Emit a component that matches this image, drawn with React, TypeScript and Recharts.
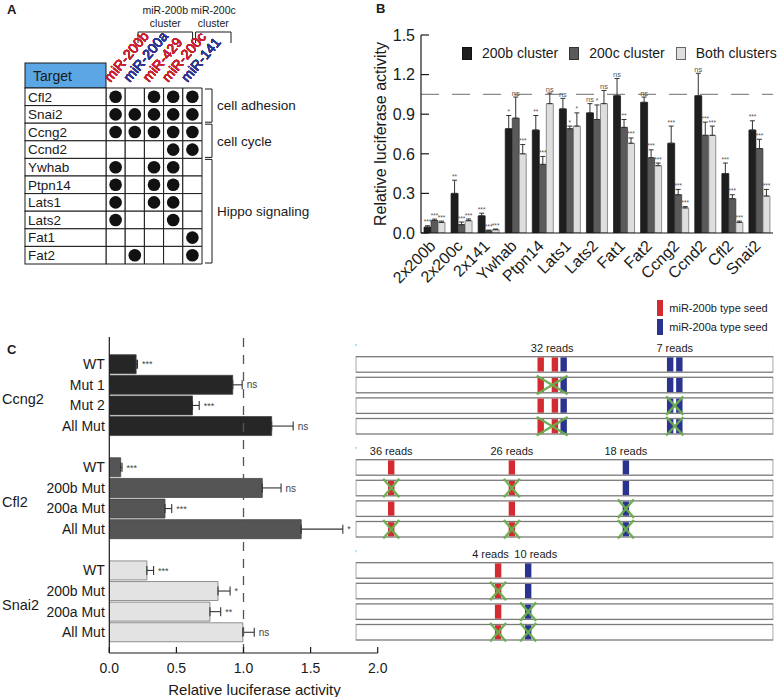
import React from 'react';
import {
  BarChart, Bar, ComposedChart, ScatterChart, Scatter, XAxis, YAxis, ErrorBar, LabelList,
  ReferenceLine, ReferenceArea, Legend, Label, Cell,
} from 'recharts';

const FONT = '"Liberation Sans", Arial, Helvetica, sans-serif';
const INK = '#1a1a1a';

// ---------------- Panel A data ----------------
const MIRNAS = ['miR-200b', 'miR-200a', 'miR-429', 'miR-200c', 'miR-141'];
const MIRNA_COLORS = ['#c8202f', '#2c3590', '#c8202f', '#c8202f', '#2c3590'];
const TARGETS = ['Cfl2', 'Snai2', 'Ccng2', 'Ccnd2', 'Ywhab', 'Ptpn14', 'Lats1', 'Lats2', 'Fat1', 'Fat2'];
const HITS = [
  [1, 0, 1, 1, 1],
  [1, 1, 1, 1, 1],
  [1, 1, 1, 1, 1],
  [0, 0, 0, 1, 1],
  [1, 0, 1, 1, 0],
  [1, 0, 1, 1, 0],
  [1, 0, 1, 1, 0],
  [1, 0, 0, 1, 0],
  [0, 0, 0, 0, 1],
  [0, 1, 0, 0, 1],
];
const CLUSTERS = [
  { name: ['miR-200b', 'cluster'], from: 'miR-200b', to: 'miR-429' },
  { name: ['miR-200c', 'cluster'], from: 'miR-200c', to: 'miR-141' },
];
const PATHWAYS = [
  { name: 'cell adhesion', from: 'Cfl2', to: 'Snai2' },
  { name: 'cell cycle', from: 'Ccng2', to: 'Ccnd2' },
  { name: 'Hippo signaling', from: 'Ywhab', to: 'Fat2' },
];

// ---------------- Panel B data ----------------
const B_CATEGORIES = ['2x200b', '2x200c', '2x141', 'Ywhab', 'Ptpn14', 'Lats1', 'Lats2', 'Fat1', 'Fat2', 'Ccng2', 'Ccnd2', 'Cfl2', 'Snai2'];
const B_SERIES = ['200b cluster', '200c cluster', 'Both clusters'];
const B_200B = [0.045, 0.30, 0.13, 0.79, 0.78, 0.94, 0.91, 1.04, 0.99, 0.68, 1.04, 0.45, 0.78];
const B_200B_ERR = [0.01, 0.10, 0.02, 0.10, 0.11, 0.08, 0.07, 0.13, 0.04, 0.13, 0.17, 0.08, 0.07];
const B_200B_SIG = ['***', '**', '***', '*', '**', 'ns', 'ns', 'ns', 'ns', '***', 'ns', '***', '***'];
const B_200C = [0.095, 0.063, 0.017, 0.87, 0.52, 0.79, 0.86, 0.80, 0.57, 0.29, 0.74, 0.26, 0.64];
const B_200C_ERR = [0.01, 0.02, 0.005, 0.16, 0.06, 0.02, 0.11, 0.06, 0.06, 0.04, 0.10, 0.03, 0.07];
const B_200C_SIG = ['***', '***', '***', 'ns', '***', '*', '*', '**', '***', '***', '***', '***', '***'];
const B_BOTH = [0.08, 0.093, 0.025, 0.60, 0.98, 0.81, 0.98, 0.68, 0.51, 0.19, 0.74, 0.08, 0.28];
const B_BOTH_ERR = [0.01, 0.013, 0.005, 0.07, 0.08, 0.10, 0.10, 0.04, 0.02, 0.01, 0.07, 0.01, 0.05];
const B_BOTH_SIG = ['***', '***', '***', '***', 'ns', '*', 'ns', '***', '***', '***', '***', '***', '***'];
const B_TICKS = [0, 0.3, 0.6, 0.9, 1.2, 1.5];
const B_BASELINE = 1.05;
const B_COLORS = ['#1e1e1e', '#5a5a5a', '#dedede'];
const B_STROKES = ['#111', '#333', '#666'];

// ---------------- Panel C data ----------------
const C_GENES = ['Ccng2', 'Cfl2', 'Snai2'];
const C_CONSTRUCTS = [
  ['WT', 'Mut 1', 'Mut 2', 'All Mut'],
  ['WT', '200b Mut', '200a Mut', 'All Mut'],
  ['WT', '200b Mut', '200a Mut', 'All Mut'],
];
const C_VALUES = [
  [0.20, 0.92, 0.62, 1.21],
  [0.085, 1.14, 0.415, 1.43],
  [0.28, 0.81, 0.75, 0.995],
];
const C_ERRORS = [
  [0.01, 0.07, 0.05, 0.16],
  [0.01, 0.14, 0.05, 0.31],
  [0.05, 0.09, 0.08, 0.085],
];
const C_SIG = [
  ['***', 'ns', '***', 'ns'],
  ['***', 'ns', '***', '*'],
  ['***', '*', '**', 'ns'],
];
const C_COLORS = ['#262626', '#555555', '#e3e3e3'];
const C_TICKS = [0, 0.5, 1, 1.5, 2];

// schematic: seed positions along the 3'UTR (0..100)
const TRANSCRIPT_LEN = 100;
const SEED_SITES = [
  [
    { reads: '32 reads', seeds: [{ pos: 44.3, type: 'b' }, { pos: 47.7, type: 'b' }, { pos: 49.8, type: 'a' }] },
    { reads: '7 reads', seeds: [{ pos: 75.3, type: 'a' }, { pos: 77.5, type: 'a' }] },
  ],
  [
    { reads: '36 reads', seeds: [{ pos: 8.5, type: 'b' }] },
    { reads: '26 reads', seeds: [{ pos: 37.4, type: 'b' }] },
    { reads: '18 reads', seeds: [{ pos: 64.7, type: 'a' }] },
  ],
  [
    { reads: '4 reads', seeds: [{ pos: 34.1, type: 'b' }] },
    { reads: '10 reads', seeds: [{ pos: 41.3, type: 'a' }] },
  ],
];
const MUTATED_SITES = [
  [[], [0], [1], [0, 1]],
  [[], [0, 1], [2], [0, 1, 2]],
  [[], [0], [1], [0, 1]],
];
const SEED_TYPES = [
  { key: 'b', name: 'miR-200b type seed', color: '#d42a31' },
  { key: 'a', name: 'miR-200a type seed', color: '#2b3391' },
];

const C_DATA: any[] = C_GENES.flatMap((g, gi) => {
  const rows = C_CONSTRUCTS[gi].map((c, ci) => ({
    id: `${g}|${c}`, label: c, gene: gi, ci,
    value: C_VALUES[gi][ci], err: [0, C_ERRORS[gi][ci]], sig: C_SIG[gi][ci], len: TRANSCRIPT_LEN,
  }));
  return gi < C_GENES.length - 1
    ? [...rows, { id: `gap|${gi}`, label: '', gene: gi, ci: -1, value: null, err: null, sig: '', len: null }]
    : rows;
});

const C_PAD = { top: 16.7, bottom: 10.6 };

// ---------------- Panel A components ----------------
const A_LABEL_W = 81;
const A_HEADER_H = 25;
const A_CELLS = TARGETS.flatMap((target, i) => MIRNAS.map((mir, j) => ({ target, mir, hit: HITS[i][j] === 1 })));

const MirTick = (props: any) => {
  const { x, y, payload } = props;
  const i = MIRNAS.indexOf(payload.value);
  const tx = x - 5;
  const ty = y - 5;
  return (
    <g transform={`translate(${tx},${ty})`}>
      <text x={0} y={0} transform="rotate(-50)" fontSize={14} fill={MIRNA_COLORS[i]}>
        {payload.value}
      </text>
    </g>
  );
};

const TargetTick = (props: any) => {
  const { x, y, payload } = props;
  const h = payload && payload.offset ? payload.offset * 2 : 17.6;
  return (
    <g>
      <rect x={x - A_LABEL_W} y={y - h / 2} width={A_LABEL_W} height={h} fill="#fff" stroke={INK} strokeWidth={1} />
      <text x={x - A_LABEL_W + 3} y={y} dy="0.36em" fontSize={13.5} fill={INK}>{payload.value}</text>
    </g>
  );
};

const TargetHeader = (props: any) => {
  const vb = props.viewBox;
  if (!vb) return null;
  return (
    <g>
      <rect x={vb.x} y={vb.y - A_HEADER_H} width={vb.width} height={A_HEADER_H} fill="#5ba6e4" stroke={INK} strokeWidth={1} />
      <text x={vb.x + 8} y={vb.y - A_HEADER_H / 2} dy="0.36em" fontSize={14} fill={INK}>Target</text>
    </g>
  );
};

const clusterBracket = (name: string[]) => (props: any) => {
  const vb = props.viewBox;
  if (!vb) return null;
  const x0 = vb.x + 32;
  const x1 = vb.x + vb.width + 29;
  const yb = vb.y - 56;
  const cx = (x0 + x1) / 2;
  return (
    <g>
      <path d={`M${x0},${vb.y - 45}V${yb}H${x1}V${vb.y - 45}`} fill="none" stroke={INK} strokeWidth={1} />
      <text x={cx} y={vb.y - 74} textAnchor="middle" fontSize={10.5} fill={INK}>{name[0]}</text>
      <text x={cx} y={vb.y - 61} textAnchor="middle" fontSize={10.5} fill={INK}>{name[1]}</text>
    </g>
  );
};

const pathwayBracket = (name: string) => (props: any) => {
  const vb = props.viewBox;
  if (!vb) return null;
  const bx = vb.x + vb.width + 10;
  const t = vb.y + 1;
  const b = vb.y + vb.height - 1;
  return (
    <g>
      <path d={`M${bx - 7},${t}H${bx}V${b}H${bx - 7}`} fill="none" stroke={INK} strokeWidth={1} />
      <text x={bx + 5} y={(t + b) / 2} dy="0.36em" fontSize={13.5} fill={INK}>{name}</text>
    </g>
  );
};

const DotShape = (props: any) =>
  props.payload && props.payload.hit ? <circle cx={props.cx} cy={props.cy} r={6.3} fill="#111" /> : <g />;

const PanelA = () => (
  <ScatterChart width={320} height={330} margin={{ top: 28, right: 118, bottom: 66, left: 25 }}>
    <XAxis
      type="category" dataKey="mir" orientation="top" height={60} scale="band" allowDuplicatedCategory={false}
      axisLine={false} tickLine={false} tickSize={0} tickMargin={0} interval={0} tick={<MirTick />}
    />
    <YAxis
      type="category" dataKey="target" width={A_LABEL_W} scale="band" reversed allowDuplicatedCategory={false}
      axisLine={false} tickLine={false} tickSize={0} tickMargin={0} interval={0} tick={<TargetTick />}
      label={<Label content={TargetHeader} />}
    />
    {A_CELLS.map((c) => (
      <ReferenceArea
        key={`${c.target}-${c.mir}`} x1={c.mir} x2={c.mir} y1={c.target} y2={c.target}
        fill="#fff" fillOpacity={1} stroke={INK} strokeWidth={1} strokeOpacity={1} ifOverflow="visible"
      />
    ))}
    {CLUSTERS.map((cl) => (
      <ReferenceArea
        key={cl.from} x1={cl.from} x2={cl.to} y1={TARGETS[0]} y2={TARGETS[0]}
        fill="none" fillOpacity={0} stroke="none" ifOverflow="visible"
        label={<Label content={clusterBracket(cl.name)} />}
      />
    ))}
    {PATHWAYS.map((p) => (
      <ReferenceArea
        key={p.name} x1={MIRNAS[MIRNAS.length - 1]} x2={MIRNAS[MIRNAS.length - 1]} y1={p.from} y2={p.to}
        fill="none" fillOpacity={0} stroke="none" ifOverflow="visible"
        label={<Label content={pathwayBracket(p.name)} />}
      />
    ))}
    <Scatter data={A_CELLS} shape={DotShape} isAnimationActive={false} />
  </ScatterChart>
);

// ---------------- Panel B components ----------------
const B_DATA = B_CATEGORIES.map((name, i) => ({
  name,
  s0: B_200B[i], e0: [0, B_200B_ERR[i]],
  s1: B_200C[i], e1: [0, B_200C_ERR[i]],
  s2: B_BOTH[i], e2: [0, B_BOTH_ERR[i]],
}));
const B_VALS = [B_200B, B_200C, B_BOTH];
const B_ERRS = [B_200B_ERR, B_200C_ERR, B_BOTH_ERR];
const B_SIGS = [B_200B_SIG, B_200C_SIG, B_BOTH_SIG];

const bSigLabel = (k: number) => (props: any) => {
  const i = B_CATEGORIES.indexOf(props.value);
  const vb = props.viewBox || props;
  if (i < 0 || !vb || vb.height == null) return null;
  const pxPer = vb.height / B_VALS[k][i];
  const top = vb.y - B_ERRS[k][i] * pxPer;
  const s = B_SIGS[k][i];
  return (
    <text x={vb.x + vb.width / 2} y={top - 1.5} textAnchor="middle" fontSize={s === 'ns' ? 7.5 : 6.5} fill="#555">{s}</text>
  );
};

const BXTick = (props: any) => {
  const { x, y, payload } = props;
  const tx = x + 2;
  const ty = y + 14;
  return (
    <text x={tx} y={ty} textAnchor="end" transform={`rotate(-45 ${tx} ${ty})`} fontSize={16} fill={INK}>
      {payload.value}
    </text>
  );
};

const BYTick = (props: any) => {
  const { x, y, payload } = props;
  return (
    <g>
      <line x1={x} x2={x + 8} y1={y} y2={y} stroke={INK} strokeWidth={1.2} />
      <text x={x - 6} y={y} dy="0.36em" textAnchor="end" fontSize={16} fill={INK}>{payload.value.toFixed(1)}</text>
    </g>
  );
};

const BYLabel = (props: any) => {
  const vb = props.viewBox;
  if (!vb) return null;
  const x = vb.x + vb.width - 35;
  const y = vb.y + vb.height / 2;
  return (
    <text x={x} y={y} transform={`rotate(-90 ${x} ${y})`} textAnchor="middle" fontSize={16} fill={INK}>
      Relative luciferase activity
    </text>
  );
};

const BLegend = () => (
  <div style={{ display: 'flex', alignItems: 'center', fontSize: 14, color: INK, fontFamily: FONT, whiteSpace: 'nowrap' }}>
    {B_SERIES.map((s, k) => (
      <div key={s} style={{ display: 'flex', alignItems: 'center', marginRight: 11 }}>
        <span style={{ display: 'inline-block', width: 10, height: 13, background: B_COLORS[k], border: `1px solid ${B_STROKES[k]}`, boxSizing: 'border-box', marginRight: 10 }} />
        <span>{s}</span>
      </div>
    ))}
  </div>
);

const PanelB = () => (
  <BarChart width={464} height={330} data={B_DATA} margin={{ top: 35, right: 11, bottom: 37, left: 0 }} barCategoryGap={3} barGap={0}>
    <XAxis dataKey="name" type="category" interval={0} tickLine={false} tickSize={0} tickMargin={0} height={60}
      axisLine={{ stroke: INK, strokeWidth: 1.2 }} tick={<BXTick />} />
    <YAxis type="number" domain={[0, 1.5]} ticks={B_TICKS} width={101} allowDataOverflow
      axisLine={{ stroke: INK, strokeWidth: 1.2 }} tickLine={false} tickSize={0} tickMargin={0}
      tick={<BYTick />} label={<Label content={BYLabel} />} />
    <ReferenceLine y={B_BASELINE} stroke="#8a8a8a" strokeDasharray="18 13" strokeWidth={1.2} />
    {[0, 1, 2].map((k) => (
      <Bar key={k} dataKey={`s${k}`} name={B_SERIES[k]} fill={B_COLORS[k]} stroke={B_STROKES[k]} strokeWidth={0.7} isAnimationActive={false}>
        <ErrorBar dataKey={`e${k}`} direction="y" width={2.5} stroke="#333" strokeWidth={1} />
        <LabelList dataKey="name" content={bSigLabel(k)} />
      </Bar>
    ))}
    <Legend content={BLegend} layout="horizontal" verticalAlign="middle" align="center"
      wrapperStyle={{ top: 45, left: 142, width: 330, height: 16 }} />
  </BarChart>
);

// ---------------- Panel C components ----------------
const cSigLabel = (props: any) => {
  const row = C_DATA.find((r) => r.id === props.value);
  const vb = props.viewBox || props;
  if (!row || row.value == null || !vb || vb.width == null) return null;
  const pxPer = vb.width / row.value;
  const tx = vb.x + vb.width + row.err[1] * pxPer + 4.5;
  const ty = vb.y + vb.height / 2;
  return (
    <text x={tx} y={ty} dy="0.36em" fontSize={row.sig === 'ns' ? 10 : 9} fill="#444">{row.sig}</text>
  );
};

const CYTick = (props: any) => {
  const { x, y, payload } = props;
  const row = C_DATA.find((r) => r.id === payload.value);
  return (
    <text x={x - 4.5} y={y} dy="0.36em" textAnchor="end" fontSize={14} fill={INK}>{row ? row.label : ''}</text>
  );
};

const CXTick = (props: any) => {
  const { x, y, payload } = props;
  return (
    <g>
      <line x1={x} x2={x} y1={y} y2={y - 6} stroke={INK} strokeWidth={1.2} />
      <text x={x} y={y + 20} textAnchor="middle" fontSize={14} fill={INK}>{payload.value.toFixed(1)}</text>
    </g>
  );
};

const CXLabel = (props: any) => {
  const vb = props.viewBox;
  if (!vb) return null;
  return (
    <text x={vb.x + vb.width / 2 + 11} y={vb.y + 42} textAnchor="middle" fontSize={15} fill={INK}>
      Relative luciferase activity
    </text>
  );
};

const geneLabel = (g: string) => (props: any) => {
  const vb = props.viewBox;
  if (!vb) return null;
  return <text x={2} y={vb.y + vb.height / 2 + 4} dy="0.36em" fontSize={14.5} fill={INK}>{g}</text>;
};

const PanelCBars = () => (
  <BarChart layout="vertical" width={392} height={367} data={C_DATA} margin={{ top: 7, right: 14.3, bottom: 0, left: 0 }} barSize={19}>
    <XAxis type="number" domain={[0, 2]} ticks={C_TICKS} allowDataOverflow height={44}
      axisLine={{ stroke: INK, strokeWidth: 1.2 }} tickLine={false} tickSize={0} tickMargin={0}
      tick={<CXTick />} label={<Label content={CXLabel} />} />
    <YAxis type="category" dataKey="id" width={109.3} allowDuplicatedCategory={false} padding={C_PAD}
      axisLine={{ stroke: INK, strokeWidth: 1.2 }} tickLine={false} tickSize={0} tickMargin={0} interval={0}
      tick={<CYTick />} />
    {C_GENES.map((g, gi) => (
      <ReferenceArea key={g} y1={`${g}|${C_CONSTRUCTS[gi][1]}`} y2={`${g}|${C_CONSTRUCTS[gi][2]}`}
        fill="none" fillOpacity={0} stroke="none" ifOverflow="visible" label={<Label content={geneLabel(g)} />} />
    ))}
    <Bar dataKey="value" isAnimationActive={false} strokeWidth={0.8}>
      {C_DATA.map((r) => (
        <Cell key={r.id} fill={C_COLORS[r.gene]} stroke={r.gene === 2 ? '#777' : '#444'} />
      ))}
      <ErrorBar dataKey="err" direction="x" width={4.5} stroke="#333" strokeWidth={1.1} />
      <LabelList dataKey="id" content={cSigLabel} />
    </Bar>
    <ReferenceLine x={1} stroke="#555" strokeDasharray="9 8" strokeWidth={1.3} />
  </BarChart>
);

const seedColor = (t: string) => (SEED_TYPES.find((s) => s.key === t) || SEED_TYPES[0]).color;

const TranscriptShape = (props: any) => {
  const { x, y, width, height, payload } = props;
  if (!payload || payload.len == null || width == null) return null;
  const sites = SEED_SITES[payload.gene];
  const mutated = MUTATED_SITES[payload.gene][payload.ci] || [];
  const px = (p: number) => x + (width * p) / payload.len;
  const labels: any[] = [];
  if (payload.ci === 0) {
    const items = sites.map((s) => {
      const a = px(s.seeds[0].pos);
      const b = px(s.seeds[s.seeds.length - 1].pos);
      const w = s.reads.length * 11 * 0.5;
      return { text: s.reads, cx: (a + b) / 2, w };
    });
    for (let k = 1; k < items.length; k++) {
      const l = items[k - 1];
      const r = items[k];
      const overlap = l.cx + l.w / 2 + 4 - (r.cx - r.w / 2);
      if (overlap > 0) {
        l.cx -= overlap / 2;
        r.cx += overlap / 2;
      }
    }
    items.forEach((it) => labels.push(
      <text key={it.text} x={it.cx} y={y - 4.5} textAnchor="middle" fontSize={11} fill={INK}>{it.text}</text>,
    ));
    labels.push(<text key="5p" x={x + 1} y={y - 4.5} textAnchor="end" fontSize={11} fill={INK}>5’</text>);
    labels.push(<text key="3p" x={x + width} y={y - 4.5} textAnchor="start" fontSize={11} fill={INK}>3’</text>);
  }
  return (
    <g>
      <rect x={x} y={y} width={width} height={height} fill="#fff" stroke="#7a7a7a" strokeWidth={1.3} />
      {sites.map((s, si) => s.seeds.map((sd, k) => (
        <rect key={`${si}-${k}`} x={px(sd.pos) - 3.2} y={y + 0.7} width={6.4} height={height - 1.4} fill={seedColor(sd.type)} />
      )))}
      {mutated.map((si: number) => {
        const s = sites[si];
        const a = px(s.seeds[0].pos);
        const b = px(s.seeds[s.seeds.length - 1].pos);
        const cx = (a + b) / 2;
        const half = Math.max(8, (b - a) / 2 + 4);
        return (
          <g key={`x${si}`} stroke="#6aad4e" strokeWidth={2.4} strokeOpacity={0.95}>
            <line x1={cx - half} y1={y - 1.5} x2={cx + half} y2={y + height + 1.5} />
            <line x1={cx + half} y1={y - 1.5} x2={cx - half} y2={y + height + 1.5} />
          </g>
        );
      })}
      {labels}
    </g>
  );
};

const SeedLegend = () => (
  <div style={{ fontFamily: FONT, fontSize: 11, color: INK, whiteSpace: 'nowrap' }}>
    {SEED_TYPES.map((s, k) => (
      <div key={s.key} style={{ display: 'flex', alignItems: 'center', height: 16, marginBottom: k === 0 ? 3.3 : 0 }}>
        <span style={{ display: 'inline-block', width: 6.6, height: 16, background: s.color, marginRight: 6 }} />
        <span>{s.name}</span>
      </div>
    ))}
  </div>
);

const PanelCSchematic = () => (
  <ComposedChart layout="vertical" width={444} height={402} data={C_DATA} margin={{ top: 42, right: 10.7, bottom: 44.3, left: 15.7 }}>
    <XAxis type="number" domain={[0, TRANSCRIPT_LEN]} allowDataOverflow hide />
    <YAxis type="category" dataKey="id" hide allowDuplicatedCategory={false} padding={C_PAD} />
    <Bar dataKey="len" barSize={15.5} shape={TranscriptShape} isAnimationActive={false} />
    <Legend content={SeedLegend} layout="horizontal" verticalAlign="middle" align="center"
      wrapperStyle={{ top: 5, left: 316.7, width: 130, height: 36 }} />
  </ComposedChart>
);

const panelLetter = (t: string, left: number, top: number) => (
  <div style={{ position: 'absolute', left, top, fontSize: 13, fontWeight: 'bold', lineHeight: '15px', color: INK }}>{t}</div>
);

export default function App() {
  return (
    <div style={{ position: 'absolute', left: 0, top: 0, width: 784, height: 697, background: '#fff', fontFamily: FONT, color: INK, overflow: 'hidden' }}>
      <div style={{ position: 'absolute', left: 0, top: 0 }}><PanelA /></div>
      <div style={{ position: 'absolute', left: 320, top: 0 }}><PanelB /></div>
      <div style={{ position: 'absolute', left: 340, top: 295 }}><PanelCSchematic /></div>
      <div style={{ position: 'absolute', left: 0, top: 330 }}><PanelCBars /></div>
      {panelLetter('A', 7, 2)}
      {panelLetter('B', 376, 1)}
      {panelLetter('C', 7, 342)}
    </div>
  );
}
